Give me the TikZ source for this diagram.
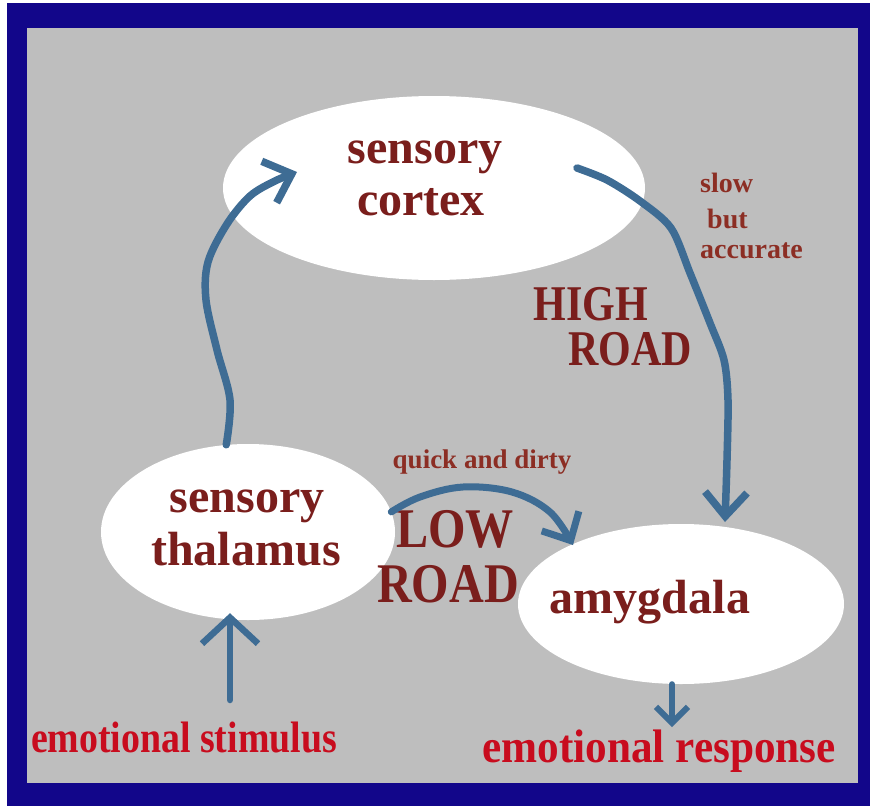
\documentclass[tikz,border=0pt]{standalone}
\usepackage{fontspec}
\usepackage{graphicx}
\setmainfont{Liberation Serif}
\usetikzlibrary{shapes.geometric,arrows.meta,calc}
\definecolor{txtred}{RGB}{122,30,28}
\definecolor{lblred}{RGB}{140,46,36}
\definecolor{brightred}{RGB}{200,12,30}
\definecolor{arrowblue}{RGB}{62,108,148}
\definecolor{framebl}{RGB}{18,6,138}
\definecolor{bggray}{RGB}{190,190,190}
\begin{document}
\begin{tikzpicture}[x=1pt,y=-1pt,
  blob/.style={ellipse, fill=white, draw=none, inner sep=0},
  bigtxt/.style={font=\bfseries\fontsize{48}{52}\selectfont, text=txtred, inner sep=0, anchor=base},
  roadtxt/.style={font=\bfseries\fontsize{56}{60}\selectfont, text=txtred, inner sep=0, anchor=base},
  hightxt/.style={font=\bfseries\fontsize{50}{54}\selectfont, text=txtred, inner sep=0, anchor=base},
  smalltxt/.style={font=\bfseries\fontsize{27}{30}\selectfont, text=lblred, inner sep=0, anchor=base},
  bottxt/.style={font=\bfseries, text=brightred, inner sep=0, anchor=base},
  conn/.style={draw=arrowblue, line cap=round, line join=round}
]
\useasboundingbox (0,0) rectangle (870,806);
\fill[white] (0,0) rectangle (870,806);
\fill[framebl] (7,3) rectangle (870,806);
\fill[bggray] (27,28) rectangle (858,783);

% ellipses
\node[blob, minimum width=422, minimum height=184] (cortex) at (434,188) {};
\node[blob, minimum width=294, minimum height=176] (thal) at (248,532) {};
\node[blob, minimum width=326, minimum height=160] (amyg) at (681,604) {};

% ellipse texts
\node[bigtxt] (cortexA) at (425,163) {sensory};
\node[bigtxt] (cortexB) at (421,215) {cortex};
\node[bigtxt] (thalA) at (247,512) {sensory};
\node[bigtxt] (thalB) at (246,565) {thalamus};
\node[bigtxt] (amygA) at (650,613) {amygdala};

% road labels
\node[roadtxt] (lowA) at (455,547) {\scalebox{0.86}[1]{LOW}};
\node[roadtxt] (lowB) at (448,602) {\scalebox{0.86}[1]{ROAD}};
\node[hightxt] (highA) at (591,320) {\scalebox{0.84}[1]{HIGH}};
\node[hightxt] (highB) at (630,365) {\scalebox{0.84}[1]{ROAD}};

% small labels
\node[smalltxt] (quick) at (482,468) {quick and dirty};
\node[smalltxt, anchor=base west, font=\bfseries\fontsize{28}{30}\selectfont] (slowA) at (700,192) {slow};
\node[smalltxt, anchor=base west, font=\bfseries\fontsize{28}{30}\selectfont] (slowB) at (707,228) {but};
\node[smalltxt, anchor=base west, font=\bfseries\fontsize{28}{30}\selectfont] (slowC) at (700,258) {accurate};

% bottom labels
\node[bottxt, font=\bfseries\fontsize{44}{48}\selectfont] (stim) at (184,752) {\scalebox{0.86}[1]{emotional stimulus}};
\node[bottxt, font=\bfseries\fontsize{47}{50}\selectfont] (resp) at (659,762) {\scalebox{0.92}[1]{emotional response}};

% connector end points
\coordinate (ctxTip) at (297,172);
\coordinate (hiStart) at (577,168);
\coordinate (hiTip) at (725,522);
\coordinate (loTip) at (573,545);
\coordinate (stimStart) at (230,700);
\coordinate (respTip) at (672,727);

% thalamus -> cortex
\draw[conn, line width=7.5pt, -{Straight Barb[length=24pt,width=44pt]}]
  plot[smooth, tension=0.55] coordinates {(thal.104) (230,400) (217,350) (206,300) (208,262) (227,224) (250,196) (275,181) (ctxTip)};

% cortex -> amygdala (high road)
\draw[conn, line width=7.5pt, -{Straight Barb[length=24pt,width=42pt]}]
  plot[smooth, tension=0.5] coordinates {(hiStart) (607,180) (640,201) (671,228) (690,273) (710,323) (724,360) (728,400) (727,460) (hiTip)};

% thalamus -> amygdala (low road)
\draw[conn, line width=7pt, -{Straight Barb[length=22pt,width=42pt]}]
  plot[smooth, tension=0.6] coordinates {(thal.8) (420,497) (463,487) (512,492) (550,512) (loTip)};

% stimulus -> thalamus
\draw[conn, line width=6.5pt, shorten >=-7pt, -{Straight Barb[length=26pt,width=56pt]}]
  (stimStart) -- (stimStart |- thal.south);

% amygdala -> response
\draw[conn, line width=6pt, -{Straight Barb[length=16pt,width=32pt]}]
  (respTip |- amyg.south) -- (respTip);
\end{tikzpicture}
\end{document}
